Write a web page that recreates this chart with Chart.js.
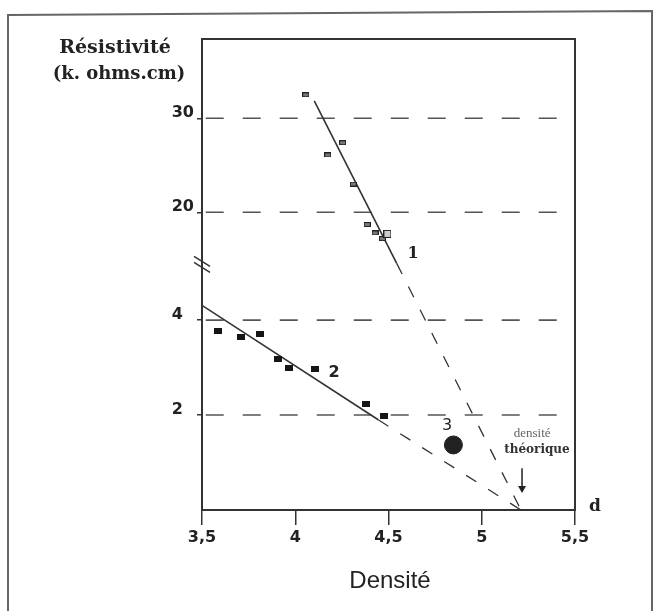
<!DOCTYPE html>
<html>
<head>
<meta charset="utf-8">
<script src="https://cdn.jsdelivr.net/npm/chart.js@4.4.0/dist/chart.umd.min.js"></script>
<style>
  body { margin: 0; background: #fff; }
  #wrap { width: 654px; height: 611px; }
</style>
</head>
<body>
<div id="wrap"><canvas id="chart" width="654" height="611"></canvas></div>
<script>
// axis ticks
let xTicks = [3.5, 4, 4.5, 5, 5.5];
let yTickValues = [2, 4, 20, 30];
let yTickLabels = ["2  ", "4  ", "20", "30"];

// series 1 (upper part of the broken axis)
let s1Density = [4.056, 4.174, 4.254, 4.311, 4.386, 4.428, 4.467, 4.494];
let s1Resist = [32.5, 26.1, 27.4, 23.0, 18.7, 17.8, 17.2, 17.7];

// series 2 (lower part)
let s2Density = [3.588, 3.707, 3.811, 3.909, 3.966, 4.106, 4.379, 4.476];
let s2Resist = [3.78, 3.64, 3.71, 3.17, 3.0, 2.96, 2.23, 1.99];

// point 3
let p3Density = [4.848];
let p3Resist = [1.37];

// fitted lines: solid part, then dashed extrapolation down to d = 5.21
let line1Density = [4.102, 4.544, 5.21];
let line1Resist = [31.85, 14.57, 0];
let line2Density = [3.5, 4.445, 5.21];
let line2Resist = [4.31, 1.9, 0];

// broken axis: below the break values are plotted as is,
// above it 20..30 is squeezed in
function toY(v) {
  if (v < 10) return v;
  return 6.27 + (v - 20) * 0.198;
}

function pts(xs, ys) {
  return xs.map((x, i) => ({ x: x, y: toY(ys[i]) }));
}

function marker(w, h, fill, stroke) {
  let c = document.createElement("canvas");
  c.width = w;
  c.height = h;
  let g = c.getContext("2d");
  g.fillStyle = fill;
  g.fillRect(0, 0, w, h);
  if (stroke) {
    g.strokeStyle = stroke;
    g.lineWidth = 1;
    g.strokeRect(0.5, 0.5, w - 1, h - 1);
  }
  return c;
}

let m1 = marker(7, 5, "#777", "#222");
let m1sq = marker(8, 8, "#ccc", "#222");
let m2 = marker(8, 6, "#151515");

let gridSets = yTickValues.map((v) => ({
  data: [{ x: 3.52, y: toY(v) }, { x: 5.41, y: toY(v) }],
  borderColor: "#555",
  borderWidth: 1.6,
  borderDash: [18, 19],
  pointRadius: 0,
  showLine: true,
}));

function seg(xs, ys, from, to, dash) {
  return {
    data: pts(xs.slice(from, to + 1), ys.slice(from, to + 1)),
    borderColor: "#333",
    borderWidth: dash ? 1.3 : 1.6,
    borderDash: dash ? [12, 14] : [],
    pointRadius: 0,
    showLine: true,
  };
}

let decor = {
  id: "decor",
  afterDraw(chart) {
    let ctx = chart.ctx;
    let a = chart.chartArea;
    let xs = chart.scales.x;
    let ys = chart.scales.y;
    ctx.save();

    // outer frame
    ctx.strokeStyle = "#666";
    ctx.lineWidth = 2;
    ctx.beginPath();
    ctx.moveTo(8, 611);
    ctx.lineTo(8, 15);
    ctx.lineTo(652, 11);
    ctx.lineTo(652, 611);
    ctx.stroke();

    // plot box
    ctx.strokeStyle = "#333";
    ctx.lineWidth = 2;
    ctx.strokeRect(a.left, a.top, a.right - a.left, a.bottom - a.top);

    // axis break marks
    let by = ys.getPixelForValue(5.15);
    ctx.lineWidth = 1.5;
    ctx.beginPath();
    ctx.moveTo(a.left - 8, by - 9);
    ctx.lineTo(a.left + 8, by + 1);
    ctx.moveTo(a.left - 8, by - 3);
    ctx.lineTo(a.left + 8, by + 7);
    ctx.stroke();

    // titles
    ctx.fillStyle = "#222";
    ctx.textAlign = "center";
    ctx.textBaseline = "middle";
    ctx.font = "bold 19px 'DejaVu Serif'";
    ctx.fillText("Résistivité", 115, 48);
    ctx.font = "bold 18px 'DejaVu Serif'";
    ctx.fillText("(k. ohms.cm)", 119, 74);
    ctx.font = "24px 'Liberation Sans'";
    ctx.fillText("Densité", 390, 581);
    ctx.font = "bold 17px 'DejaVu Serif'";
    ctx.fillText("d", a.right + 20, a.bottom - 3);

    // curve labels
    ctx.font = "bold 16px 'DejaVu Serif'";
    ctx.fillText("1", xs.getPixelForValue(4.632), ys.getPixelForValue(toY(15.56)));
    ctx.font = "bold 16px 'DejaVu Sans'";
    ctx.fillText("2", xs.getPixelForValue(4.208), ys.getPixelForValue(2.88));
    ctx.font = "16px 'DejaVu Sans'";
    ctx.fillText("3", xs.getPixelForValue(4.814), ys.getPixelForValue(1.77));

    ctx.fillStyle = "#666";
    ctx.font = "13px 'Liberation Serif'";
    ctx.fillText("densité", xs.getPixelForValue(5.27), ys.getPixelForValue(1.62));
    ctx.fillStyle = "#333";
    ctx.font = "bold 12px 'DejaVu Serif'";
    ctx.fillText("théorique", xs.getPixelForValue(5.296), ys.getPixelForValue(1.26));

    // arrow to the theoretical density
    let ax = xs.getPixelForValue(5.216);
    let ay1 = ys.getPixelForValue(0.88);
    let ay2 = ys.getPixelForValue(0.36);
    ctx.strokeStyle = "#222";
    ctx.lineWidth = 1.5;
    ctx.beginPath();
    ctx.moveTo(ax, ay1);
    ctx.lineTo(ax, ay2 - 6);
    ctx.stroke();
    ctx.fillStyle = "#222";
    ctx.beginPath();
    ctx.moveTo(ax - 4, ay2 - 7);
    ctx.lineTo(ax + 4, ay2 - 7);
    ctx.lineTo(ax, ay2);
    ctx.closePath();
    ctx.fill();

    ctx.restore();
  },
};

new Chart(document.getElementById("chart"), {
  type: "scatter",
  data: {
    datasets: [
      {
        data: pts(p3Density, p3Resist),
        pointStyle: "circle",
        pointRadius: 9,
        backgroundColor: "#222",
        borderColor: "#222",
      },
      {
        data: pts(s1Density, s1Resist),
        pointStyle: s1Density.map((_, i) => (i === s1Density.length - 1 ? m1sq : m1)),
        pointRadius: 4,
      },
      {
        data: pts(s2Density, s2Resist),
        pointStyle: m2,
        pointRadius: 4,
      },
      seg(line1Density, line1Resist, 0, 1, false),
      seg(line1Density, line1Resist, 1, 2, true),
      seg(line2Density, line2Resist, 0, 1, false),
      seg(line2Density, line2Resist, 1, 2, true),
      ...gridSets,
    ],
  },
  options: {
    responsive: false,
    devicePixelRatio: 1,
    animation: false,
    layout: { padding: { top: 39, right: 79, left: 0, bottom: 0 } },
    plugins: { legend: { display: false }, tooltip: { enabled: false } },
    scales: {
      x: {
        type: "linear",
        min: 3.5,
        max: 5.5,
        afterBuildTicks: (s) => {
          s.ticks = xTicks.map((v) => ({ value: v }));
        },
        afterFit: (s) => {
          s.height = 101;
        },
        ticks: {
          callback: (v) => String(v).replace(".", ","),
          font: { family: "DejaVu Sans", weight: "bold", size: 16 },
          color: "#222",
          padding: 3,
          maxRotation: 0,
        },
        grid: { drawOnChartArea: false, tickLength: 15, color: "#333", lineWidth: 1.5 },
        border: { color: "#333", width: 2 },
      },
      y: {
        type: "linear",
        min: 0,
        max: 9.92,
        afterBuildTicks: (s) => {
          s.ticks = yTickValues.map((v) => ({ value: toY(v) }));
        },
        afterFit: (s) => {
          s.width = 202;
        },
        ticks: {
          callback: (v, i) => yTickLabels[i],
          font: { family: "DejaVu Sans", weight: "bold", size: 16 },
          color: "#222",
          padding: 3,
          labelOffset: -5,
        },
        grid: { drawOnChartArea: false, tickLength: 5, color: "#333", lineWidth: 1.5 },
        border: { color: "#333", width: 2 },
      },
    },
  },
  plugins: [decor],
});
</script>
</body>
</html>
